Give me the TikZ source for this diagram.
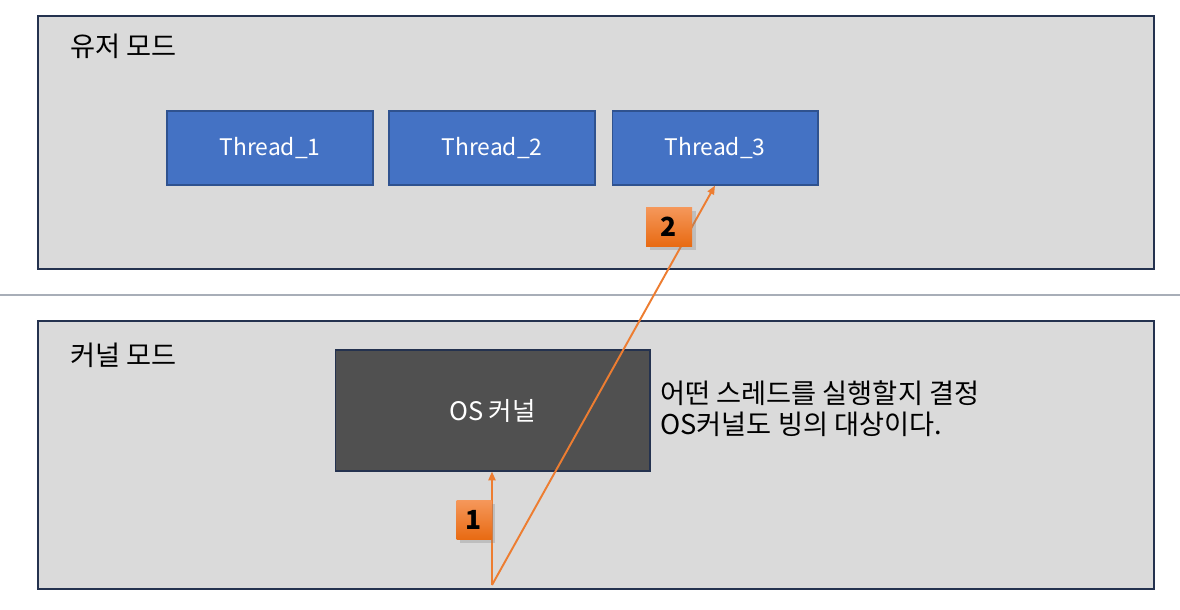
\documentclass[tikz,border=0pt]{standalone}
\usepackage{fontspec}
\setmainfont{Noto Sans CJK KR}
\usetikzlibrary{arrows.meta,shadows}
\definecolor{modegray}{HTML}{DADADA}
\definecolor{edgenavy}{HTML}{24324F}
\definecolor{threadblue}{HTML}{4472C4}
\definecolor{threadedge}{HTML}{2F528F}
\definecolor{kerneldark}{HTML}{505050}
\definecolor{steporange}{HTML}{ED7D31}
\definecolor{badgetop}{HTML}{F5975A}
\definecolor{badgebottom}{HTML}{E86A12}
\definecolor{sepline}{HTML}{A8AEB8}

\begin{document}
\begin{tikzpicture}[x=0.02cm,y=-0.02cm,>={Triangle[length=5pt,width=4pt]},
  modebox/.style={fill=modegray,draw=edgenavy,line width=0.6pt},
  thread/.style={fill=threadblue,draw=threadedge,line width=0.6pt,text=white,
    minimum width=4.12cm,minimum height=1.48cm,inner sep=0pt,font=\fontsize{13pt}{15pt}\selectfont},
  badge/.style={top color=badgetop,bottom color=badgebottom,
    draw=none,minimum height=0.78cm,inner sep=0pt,font=\bfseries\fontsize{15pt}{17pt}\selectfont,
    drop shadow={shadow xshift=2pt,shadow yshift=-2pt,opacity=0.3}},
  switchline/.style={draw=steporange,line width=1.1pt}]
\useasboundingbox (0,0) rectangle (1180,609);
% user mode area
\draw[modebox] (38,16) rectangle (1154,269);
\node[anchor=west,font=\fontsize{15.5pt}{17pt}\selectfont] (usermode) at (64,46) {유저 모드};
\node[thread] (thread1) at (270,148) {Thread\_1};
\node[thread] (thread2) at (492,148) {Thread\_2};
\node[thread] (thread3) at (715,148) {Thread\_3};
% separator
\draw[sepline,line width=0.8pt] (0,295) -- (1180,295);
% kernel mode area
\draw[modebox] (38,321) rectangle (1154,589);
\node[anchor=west,font=\fontsize{15.5pt}{17pt}\selectfont] (kernelmode) at (64,355) {커널 모드};
\node[fill=kerneldark,draw=edgenavy,line width=0.6pt,text=white,minimum width=6.3cm,
  minimum height=2.42cm,inner sep=0pt,font=\fontsize{14.5pt}{16pt}\selectfont] (kernel) at (492.5,410.5) {OS 커널};
\node[anchor=west,align=left,inner sep=0pt,font=\fontsize{15.5pt}{17.6pt}\selectfont] (note) at (660,409)
  {어떤 스레드를 실행할지 결정\\OS커널도 빙의 대상이다.};
% switching steps
\coordinate (base) at (492,585);
\draw[switchline,->] (base) -- (base |- kernel.south);
\draw[switchline,->] (base) -- (thread3.south);
\node[badge,minimum width=0.7cm] (one) at (474,520) {1};
\node[badge,minimum width=0.92cm] (two) at (669,227) {2};
\end{tikzpicture}
\end{document}
